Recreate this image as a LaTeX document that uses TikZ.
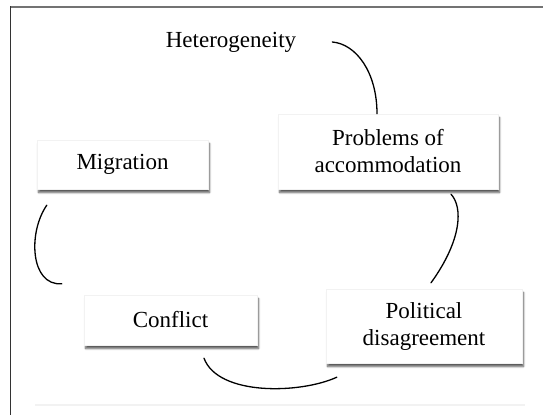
\documentclass[tikz,border=0pt]{standalone}
\usepackage{fontspec}
\setmainfont{Liberation Serif}
\usetikzlibrary{shadows.blur}

\begin{document}
\begin{tikzpicture}[x=1pt,y=-1pt,
    box/.style={fill=white,draw=black!5,inner sep=0pt,align=center,
        font=\fontsize{23}{27}\selectfont,
        blur shadow={shadow xshift=1.5pt,shadow yshift=-3.5pt,shadow blur steps=6,shadow opacity=65}},
    link/.style={line width=1.3pt,line cap=round}
]
    \useasboundingbox (0,0) rectangle (543,415);
    % frame
    \draw[black!55,line width=2pt] (10,6.5) -- (543,6.5);
    \draw[black!80,line width=1.5pt] (10.5,6) -- (10.5,415);
    \draw[black!5,line width=2pt] (35,405) -- (525,405);

    \node [inner sep=0pt,font=\fontsize{23}{27}\selectfont] (het) at (231,42) {Heterogeneity};
    \node [box,minimum width=171pt,minimum height=49pt] (mig) at (122.5,164.5) {Migration};
    \node [box,minimum width=220pt,minimum height=75pt] (prob) at (388,151.5) {Problems of\\accommodation};
    \node [box,minimum width=173pt,minimum height=50pt] (confl) at (170.5,320) {Conflict};
    \node [box,minimum width=196pt,minimum height=74pt] (pol) at (424,326) {Political\\disagreement};

    \draw[link] ([xshift=36pt]het.east) .. controls (356,44) and (377,72) .. ([xshift=-11pt]prob.north);
    \draw[link] ([xshift=63pt,yshift=-5pt]prob.south) .. controls (463,207) and (462,240) .. ([xshift=7pt,yshift=6pt]pol.north);
    \draw[link] ([xshift=11pt,yshift=-14pt]pol.south west) .. controls (300,394) and (218,396) .. ([xshift=33.5pt,yshift=-13pt]confl.south);
    \draw[link] ([xshift=-22pt,yshift=11pt]confl.north west) .. controls (30,286) and (28,232) .. ([xshift=10pt,yshift=-16pt]mig.south west);
\end{tikzpicture}
\end{document}
